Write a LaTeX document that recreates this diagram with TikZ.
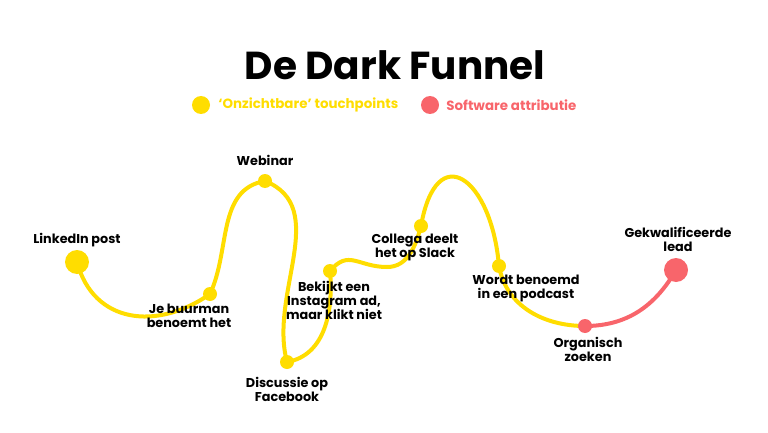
\documentclass[tikz,border=0pt]{standalone}
\usepackage{fontspec}
\setmainfont{Poppins}
\usetikzlibrary{positioning,backgrounds}

\definecolor{funnelyellow}{HTML}{FFDD00}
\definecolor{funnelred}{HTML}{F8656B}

\begin{document}
\begin{tikzpicture}[x=1pt, y=1pt, font=\bfseries\fontsize{12.8}{14}\selectfont]

		\tikzstyle{dot}=[circle, fill=funnelyellow, inner sep=0pt, minimum size=14pt]
		\tikzstyle{bigdot}=[dot, minimum size=24pt]
		\tikzstyle{legdot}=[dot, minimum size=18pt]
		\tikzstyle{lbl}=[align=center, inner sep=0pt]
		\tikzstyle{trail}=[draw=funnelyellow, line width=4pt, line cap=round]

		\useasboundingbox (0,0) rectangle (768,432);

		% Title + legend
		\node[font=\bfseries\fontsize{39}{42}\selectfont] (title) at (395,367) {De Dark Funnel};
		\node[legdot] (legy) at (201,327) {};
		\node[right=8pt of legy, inner sep=0pt, text=funnelyellow, font=\bfseries\fontsize{13.4}{14}\selectfont] (legytxt) {‘Onzichtbare’ touchpoints};
		\node[legdot, fill=funnelred] (legr) at (430,327) {};
		\node[right=7pt of legr, inner sep=0pt, text=funnelred, font=\bfseries\fontsize{13.4}{14}\selectfont] (legrtxt) {Software attributie};

		% Touchpoints
		\node[bigdot] (li) at (77,170) {};
		\node[dot] (jb) at (210,138) {};
		\node[dot] (web) at (265,251) {};
		\node[dot] (dis) at (287,70) {};
		\node[dot] (bek) at (330,161) {};
		\node[dot] (col) at (421,206) {};
		\node[dot] (wor) at (499,166) {};
		\node[dot, fill=funnelred] (org) at (585,106) {};
		\node[bigdot, fill=funnelred] (gek) at (676,162) {};
		\coordinate (dip) at (387,165);

		% Labels
		\node[lbl, above=3pt of li] (liTxt) {LinkedIn post};
		\node[lbl, below=3pt of jb, xshift=-21pt] (jbTxt) {Je buurman \\ benoemt het};
		\node[lbl, above=8pt of web] (webTxt) {Webinar};
		\node[lbl, below=8pt of dis] (disTxt) {Discussie op \\ Facebook};
		\node[lbl, below=3pt of bek, xshift=4pt] (bekTxt) {Bekijkt een \\ Instagram ad, \\ maar klikt niet};
		\node[lbl, below=1pt of col, xshift=-6pt] (colTxt) {Collega deelt \\ het op Slack};
		\node[lbl, below=2pt of wor, xshift=27pt] (worTxt) {Wordt benoemd \\ in een podcast};
		\node[lbl, below=4pt of org, xshift=3pt] (orgTxt) {Organisch \\ zoeken};
		\node[lbl, above=6pt of gek, xshift=2pt] (gekTxt) {Gekwalificeerde \\ lead};

		% The funnel itself
		\begin{scope}[on background layer]
		\draw[trail] (li.center) to[out=-75, in=215, looseness=1.2] (jb.center)
		to[out=65, in=190] (web.center)
		to[out=-22, in=105] (dis.center)
		to[out=10, in=-85] (bek.center)
		to[out=50, in=180, looseness=1.3] (dip)
		to[out=0, in=-105] (col.center)
		to[out=80, in=95, looseness=2.6] (wor.center)
		to[out=-80, in=180] (org.center);
		\draw[trail, draw=funnelred] (org.center) to[out=0, in=-120] (gek.center);
		\end{scope}

\end{tikzpicture}
\end{document}
